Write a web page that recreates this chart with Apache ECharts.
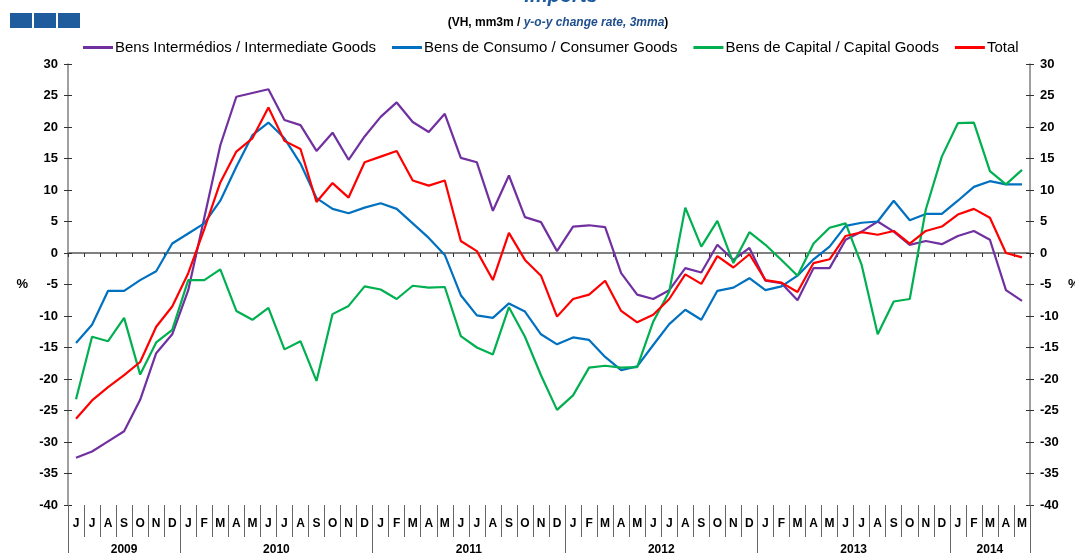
<!DOCTYPE html>
<html>
<head>
<meta charset="utf-8">
<script src="https://cdn.jsdelivr.net/npm/echarts@6/dist/echarts.min.js"></script>
<style>
html,body{margin:0;padding:0;background:#fff;overflow:hidden;}
#c{width:1075px;height:553px;}
</style>
</head>
<body>
<div id="c"></div>
<script>
// Monthly categories Jun 2009 .. May 2014
const categories = [
 '2009-06','2009-07','2009-08','2009-09','2009-10','2009-11','2009-12',
 '2010-01','2010-02','2010-03','2010-04','2010-05','2010-06','2010-07','2010-08','2010-09','2010-10','2010-11','2010-12',
 '2011-01','2011-02','2011-03','2011-04','2011-05','2011-06','2011-07','2011-08','2011-09','2011-10','2011-11','2011-12',
 '2012-01','2012-02','2012-03','2012-04','2012-05','2012-06','2012-07','2012-08','2012-09','2012-10','2012-11','2012-12',
 '2013-01','2013-02','2013-03','2013-04','2013-05','2013-06','2013-07','2013-08','2013-09','2013-10','2013-11','2013-12',
 '2014-01','2014-02','2014-03','2014-04','2014-05'
];
const monthLetters = ['J','F','M','A','M','J','J','A','S','O','N','D'];
const years = ['2009','2010','2011','2012','2013','2014'];
const monthsPerYear = [7,12,12,12,12,5];
const yTicks = {min:-40, max:30, interval:5};

const intermediate = [
 -32.5,-31.5,-29.9,-28.3,-23.3,-15.9,-12.9,
 -5.9,5.6,17.1,24.8,25.4,26.0,21.1,20.3,16.2,19.1,14.8,18.5,
 21.6,23.9,20.8,19.2,22.1,15.1,14.4,6.7,12.3,5.7,4.9,0.3,
 4.2,4.4,4.1,-3.2,-6.6,-7.3,-5.9,-2.4,-3.1,1.3,-1.1,0.8,
 -4.4,-4.8,-7.5,-2.4,-2.4,2.1,3.4,5.0,3.4,1.3,1.9,1.4,
 2.7,3.5,2.1,-5.9,-7.6
];
const consumer = [
 -14.3,-11.4,-6.0,-6.0,-4.3,-2.9,1.5,
 3.1,4.7,8.3,13.7,18.7,20.7,18.2,14.2,8.7,7.0,6.3,7.2,
 7.9,7.0,4.7,2.4,-0.3,-6.7,-9.9,-10.3,-8.0,-9.3,-12.9,-14.5,
 -13.4,-13.8,-16.5,-18.6,-18.0,-14.6,-11.3,-9.0,-10.6,-6.0,-5.5,-4.0,
 -5.9,-5.3,-3.6,-1.0,1.0,4.3,4.8,5.0,8.3,5.2,6.2,6.2,
 8.3,10.5,11.4,10.9,10.9
];
const capital = [
 -23.2,-13.3,-14.0,-10.3,-19.3,-14.2,-12.2,
 -4.3,-4.3,-2.6,-9.2,-10.6,-8.7,-15.3,-14.0,-20.3,-9.7,-8.4,-5.3,
 -5.8,-7.3,-5.2,-5.5,-5.4,-13.2,-15.0,-16.1,-8.6,-13.3,-19.4,-24.9,
 -22.6,-18.2,-17.9,-18.2,-18.1,-10.9,-6.1,7.2,1.0,5.1,-1.6,3.3,
 1.3,-1.1,-3.6,1.5,4.0,4.7,-1.9,-12.9,-7.7,-7.3,6.9,15.3,
 20.6,20.7,13.0,10.9,13.2
];
const total = [
 -26.3,-23.4,-21.3,-19.4,-17.3,-11.7,-8.5,
 -3.2,3.8,11.2,16.1,18.2,23.1,17.8,16.5,8.1,11.1,8.8,14.4,
 15.3,16.2,11.5,10.7,11.5,1.9,0.3,-4.3,3.2,-1.1,-3.6,-10.1,
 -7.3,-6.6,-4.4,-9.2,-11.0,-9.8,-7.3,-3.4,-4.9,-0.5,-2.3,-0.2,
 -4.3,-4.7,-6.2,-1.6,-1.0,2.7,3.3,2.9,3.5,1.5,3.5,4.2,
 6.1,7.0,5.6,0.0,-0.7
];

const seriesNames = ['Bens Intermédios / Intermediate Goods','Bens de Consumo / Consumer Goods','Bens de Capital / Capital Goods','Total'];
const seriesColors = ['#7030A0','#0070C0','#00B050','#FF0000'];
const seriesData = [intermediate, consumer, capital, total];

// year boundaries and centres (in month units)
const yearBounds = [0];
monthsPerYear.forEach(n => yearBounds.push(yearBounds[yearBounds.length-1] + n));
const yearCenters = monthsPerYear.map((n,i) => yearBounds[i] + n/2);

const FONT = '"Liberation Sans", Arial, sans-serif';
const chart = echarts.init(document.getElementById('c'));

function yAx(pos, opts) {
  return Object.assign({
    type:'value', position:pos, min:yTicks.min, max:yTicks.max, interval:yTicks.interval,
    splitLine:{show:false},
    axisLine:{show:false},
    axisTick:{show:false},
    axisLabel:{show:false}
  }, opts);
}

chart.setOption({
  animation:false,
  backgroundColor:'#fff',
  title:[
    {text:'Imports', left:556, top:-19, textAlign:'center',
     textStyle:{fontFamily:FONT, fontSize:20, fontWeight:'bold', fontStyle:'italic', color:'#1F5C9E'}},
    {text:'{a|(VH, mm3m / }{b|y-o-y change rate, 3mma}{a|)}', left:553, top:12, textAlign:'center',
     textStyle:{rich:{
       a:{fontFamily:FONT, fontSize:12, fontWeight:'bold', color:'#000'},
       b:{fontFamily:FONT, fontSize:12, fontWeight:'bold', fontStyle:'italic', color:'#1F4E8C'}
     }}}
  ],
  graphic:[
    {type:'rect', shape:{x:10,y:13,width:22,height:15}, style:{fill:'#1F5C9E'}},
    {type:'rect', shape:{x:34,y:13,width:22,height:15}, style:{fill:'#1F5C9E'}},
    {type:'rect', shape:{x:58,y:13,width:22,height:15}, style:{fill:'#1F5C9E'}}
  ],
  legend:{
    top:35, left:78, itemGap:16, itemWidth:30, itemHeight:3, icon:'rect',
    textStyle:{fontFamily:FONT, fontSize:15, color:'#000', padding:[0,0,0,-3]},
    data:seriesNames
  },
  grid:{left:68, right:45, top:64, bottom:48, containLabel:false, outerBoundsMode:'none'},
  xAxis:[
    { // zero line with ticks
      type:'category', data:categories, gridIndex:0, boundaryGap:true,
      axisLine:{show:true, onZero:true, lineStyle:{color:'#808080', width:2}},
      axisTick:{show:true, interval:0, length:4, lineStyle:{color:'#333', width:1}},
      axisLabel:{show:false}, splitLine:{show:false}
    },
    { // month letters
      type:'category', data:categories, position:'bottom', boundaryGap:true,
      axisLine:{show:false, onZero:false},
      axisTick:{show:true, interval:0, length:32, lineStyle:{color:'#666', width:1}},
      axisLabel:{show:true, interval:0, margin:13, fontFamily:FONT, fontSize:12, fontWeight:'bold', color:'#000',
        formatter:(v)=>monthLetters[parseInt(v.slice(5),10)-1]},
      splitLine:{show:false}
    },
    { // years
      type:'value', position:'bottom', min:0, max:categories.length,
      axisLine:{show:false, onZero:false},
      axisTick:{show:true, customValues:yearBounds, length:48, lineStyle:{color:'#666', width:1}},
      axisLabel:{show:true, customValues:yearCenters, margin:39, fontFamily:FONT, fontSize:12, fontWeight:'bold', color:'#000',
        formatter:(v)=>{ const i = yearCenters.findIndex(c=>Math.abs(c-v)<1e-6); return i>=0?years[i]:''; }},
      splitLine:{show:false}
    }
  ],
  yAxis:[
    yAx('left', {
      name:'%', nameLocation:'middle', nameGap:40, nameRotate:0,
      nameTextStyle:{fontFamily:FONT, fontSize:13, fontWeight:'bold', color:'#000'},
      axisLine:{show:true, lineStyle:{color:'#808080', width:1.5}},
      axisTick:{show:true, length:4, lineStyle:{color:'#333'}},
      axisLabel:{show:true, margin:10, fontFamily:FONT, fontSize:13, fontWeight:'bold', color:'#000'}
    }),
    yAx('right', {
      name:'%', nameLocation:'middle', nameGap:38, nameRotate:0,
      nameTextStyle:{fontFamily:FONT, fontSize:13, fontWeight:'bold', color:'#000'},
      axisLine:{show:true, lineStyle:{color:'#808080', width:1.5}},
      axisTick:{show:true, length:4, lineStyle:{color:'#333'}},
      axisLabel:{show:true, margin:10, fontFamily:FONT, fontSize:13, fontWeight:'bold', color:'#000'}
    }),
    yAx('left', {axisTick:{show:true, inside:true, length:4, lineStyle:{color:'#333'}}}),
    yAx('right', {axisTick:{show:true, inside:true, length:4, lineStyle:{color:'#333'}}})
  ],
  series: seriesNames.map((n,i)=>({
    name:n, type:'line', data:seriesData[i], xAxisIndex:0, yAxisIndex:0,
    symbol:'none', smooth:false,
    lineStyle:{color:seriesColors[i], width:2.2},
    itemStyle:{color:seriesColors[i]}
  }))
});
</script>
</body>
</html>
